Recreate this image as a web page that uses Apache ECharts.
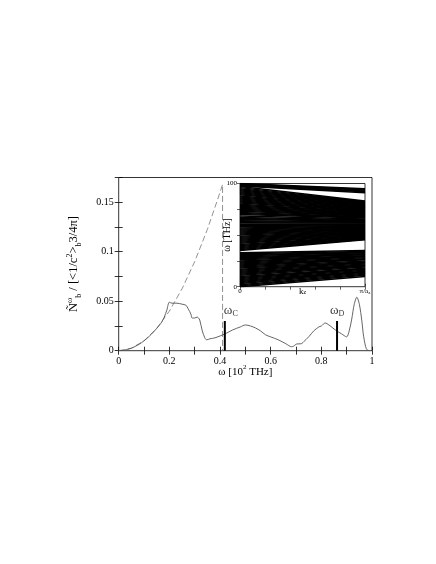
<!DOCTYPE html>
<html><head><meta charset="utf-8">
<script src="https://cdn.jsdelivr.net/npm/echarts@6/dist/echarts.min.js"></script>
<style>html,body{margin:0;padding:0;background:#fff}#c{width:436px;height:564px}</style>
</head><body><div id="c"></div>
<script>
// Main DOS curve (solid)
const dosOmega = [0,0.02,0.05,0.08,0.1,0.12,0.14,0.16,0.17,0.18,0.19,0.2,0.21,0.23,0.25,0.265,0.275,0.285,0.29,0.3,0.31,0.315,0.32,0.33,0.34,0.347,0.36,0.38,0.42,0.45,0.48,0.5,0.52,0.54,0.56,0.58,0.6,0.63,0.66,0.683,0.69,0.703,0.72,0.73,0.75,0.77,0.79,0.8,0.815,0.83,0.855,0.88,0.9,0.91,0.92,0.93,0.94,0.95,0.96,0.965,0.97,0.975,0.98,0.99];
const dosValue = [0,0.0004,0.0025,0.0064,0.01,0.0144,0.0196,0.0256,0.029,0.034,0.041,0.049,0.048,0.048,0.047,0.046,0.042,0.037,0.033,0.033,0.034,0.033,0.031,0.02,0.013,0.011,0.012,0.013,0.017,0.021,0.024,0.026,0.025,0.023,0.02,0.016,0.014,0.011,0.007,0.004,0.0045,0.0068,0.007,0.009,0.014,0.02,0.024,0.025,0.028,0.026,0.021,0.017,0.014,0.02,0.032,0.047,0.054,0.047,0.03,0.018,0.01,0.004,0.001,0];
// Dashed Debye-like curve
const debyeOmega = [0,0.05,0.1,0.15,0.2,0.25,0.3,0.35,0.4,0.41,0.41];
const debyeValue = [0,0.0025,0.01,0.0225,0.04,0.0625,0.09,0.1225,0.16,0.168,0];
// Marker bars
const markOmega = [0.419,0.862];
const markHeight = [0.03,0.03];
const markNames = ['C','D'];
// Tick labels
const xTicks = ['0','0.2','0.4','0.6','0.8','1'];
const yTicks = ['0','0.05','0.1','0.15'];
// Inset band structure: value at k=0 and at k=pi/a
const bandStart = [0,1,2,3,4,5,6,7,8,9,10,11,12,13,14,15,16,17,18,19,20,21,22,23,24,25,26,27,28,29,30,31,32,33,
  35,36,37,38,39,40,41,42,43,44,45,46,47,48,49,50,51,52,53,54,55,56,57,58,59,60,61,62,63,64,65,66,67,68.5,70,71,72,73,74,75,76,77,78,79,80,81,82,83,84,85,86,87,88,89,90,91,92,93,94,95,96,97,
  97.5,98,98.5,99,99.5,100];
const bandEnd = [10,11,12,13,14,14.5,15,16,17,17.5,18,19,20,20.5,21,22,23,23.5,24,25,26,26.5,27,28,29,29.5,30,31,31.5,32,33,33.5,34,35,
  45.5,46,46.6,47.2,47.8,48.4,49,49.6,50.2,50.9,51.5,52.1,52.7,53.3,53.9,54.5,55.1,55.7,56.3,56.9,57.5,58.1,58.7,59.4,60,60.6,61.2,61.8,62.4,63,63.6,64.2,64.8,65.7,66.6,67.2,67.9,68.5,69.1,69.7,70.3,70.9,71.5,72.1,72.7,73.3,73.9,74.5,75.1,75.7,76.4,77,77.6,78.2,78.8,79.4,80,80.6,81.2,81.8,82.4,83,
  91,92,92.8,93.6,94.3,95];

const serif = '"Liberation Serif","DejaVu Serif",serif';
const chart = echarts.init(document.getElementById('c'));

const bandLines = bandStart.map((s,i)=>({coords:[[0,s],[1,bandEnd[i]]]}));

const tickM = {show:true,inside:true,length:4,lineStyle:{color:'#000',width:0.8}};
const tickI = {show:true,inside:true,length:3,lineStyle:{color:'#000',width:0.6}};
const hid = {show:false};

const option = {
  animation:false,
  backgroundColor:'#fff',
  grid:[
    {left:118.7,right:64,top:177.5,bottom:213.3,show:true,borderColor:'#000',borderWidth:0.8,backgroundColor:'#fff'},
    {left:240,right:71,top:183.5,bottom:277.3,show:true,borderColor:'#000',borderWidth:0.8,backgroundColor:'#fff',z:5}
  ],
  xAxis:[
    {gridIndex:0,type:'value',min:0,max:1,interval:0.1,position:'bottom',
     axisLine:hid,axisTick:tickM,splitLine:hid,
     axisLabel:{color:'#000',fontFamily:serif,fontSize:10,margin:6,showMaxLabel:true,
       formatter:v=>{const i=Math.round(v/0.2);return Math.abs(v-i*0.2)<1e-9?xTicks[i]:'';}},
     name:'{a|ω [10}{s|2}{a| THz]}',nameLocation:'middle',nameGap:13,nameMoveOverlap:false,
     nameTextStyle:{rich:{a:{fontFamily:serif,fontSize:11,color:'#000',verticalAlign:'bottom',lineHeight:14},s:{fontFamily:serif,fontSize:7,color:'#000',verticalAlign:'top',lineHeight:14}}}},
    {gridIndex:0,type:'value',min:0,max:1,interval:0.1,position:'top',
     axisLine:hid,axisTick:tickM,splitLine:hid,axisLabel:hid},
    {gridIndex:1,type:'value',min:0,max:1,interval:0.2,position:'bottom',
     axisLine:hid,axisTick:tickI,splitLine:hid,
     axisLabel:{color:'#000',fontFamily:serif,fontSize:7,margin:1,showMaxLabel:true,
       formatter:v=>v===0?'0':(v===1?'{a|π/a}{s|z}':''),
       rich:{a:{fontFamily:serif,fontSize:7,color:'#000'},s:{fontFamily:serif,fontSize:5,color:'#000',verticalAlign:'bottom'}}},
     name:'{a|k}{s|z}',nameLocation:'middle',nameGap:0,nameMoveOverlap:false,
     nameTextStyle:{rich:{a:{fontFamily:serif,fontSize:9,color:'#000'},s:{fontFamily:serif,fontSize:6,color:'#000',verticalAlign:'bottom'}}}},
    {gridIndex:1,type:'value',min:0,max:1,interval:0.2,position:'top',
     axisLine:hid,axisTick:tickI,splitLine:hid,axisLabel:hid}
  ],
  yAxis:[
    {gridIndex:0,type:'value',min:0,max:0.175,interval:0.025,position:'left',
     axisLine:hid,axisTick:tickM,splitLine:hid,
     axisLabel:{color:'#000',fontFamily:serif,fontSize:10,margin:5,
       formatter:v=>{const i=Math.round(v/0.05);return Math.abs(v-i*0.05)<1e-9&&i<yTicks.length?yTicks[i]:'';}},
     name:'{a|Ñ}{p|ω}{b|b}{a| / [<1/c}{p|2}{a|>}{b|b}{a|3/4π]}',nameLocation:'middle',nameGap:36,nameRotate:90,nameMoveOverlap:false,
     nameTextStyle:{rich:{
       a:{fontFamily:serif,fontSize:12.5,color:'#000',lineHeight:17,verticalAlign:'middle'},
       p:{fontFamily:serif,fontSize:8,color:'#000',lineHeight:17,verticalAlign:'top'},
       b:{fontFamily:serif,fontSize:8,color:'#000',lineHeight:17,verticalAlign:'bottom'}}}},
    {gridIndex:0,type:'value',min:0,max:0.175,interval:0.025,position:'right',
     axisLine:hid,axisTick:tickM,splitLine:hid,axisLabel:hid},
    {gridIndex:1,type:'value',min:0,max:100,interval:25,position:'left',
     axisLine:hid,axisTick:tickI,splitLine:hid,
     axisLabel:{color:'#000',fontFamily:serif,fontSize:7,margin:3,showMaxLabel:true,formatter:v=>(v===0||v===100)?String(v):''},
     name:'ω [THz]',nameLocation:'middle',nameGap:8,nameRotate:90,nameMoveOverlap:false,
     nameTextStyle:{fontFamily:serif,fontSize:10,color:'#000'}},
    {gridIndex:1,type:'value',min:0,max:100,interval:25,position:'right',
     axisLine:hid,axisTick:tickI,splitLine:hid,axisLabel:hid}
  ],
  series:[
    {type:'line',xAxisIndex:0,yAxisIndex:0,data:debyeOmega.map((x,i)=>[x,debyeValue[i]]),
     showSymbol:false,smooth:false,lineStyle:{color:'#777',width:0.8,type:[6,3]},z:2},
    {type:'line',xAxisIndex:0,yAxisIndex:0,data:dosOmega.map((x,i)=>[x,dosValue[i]]),
     showSymbol:false,smooth:0.3,lineStyle:{color:'#555',width:0.9},z:3},
    ...markOmega.map((x,i)=>({type:'line',xAxisIndex:0,yAxisIndex:0,
      data:[[x,0],[x,markHeight[i]]],showSymbol:false,lineStyle:{color:'#000',width:2},z:4})),
    {type:'scatter',xAxisIndex:0,yAxisIndex:0,symbol:'circle',symbolSize:1,itemStyle:{color:'rgba(0,0,0,0)'},z:4,
     data:markOmega.map((x,i)=>({value:[x,markHeight[i]],name:markNames[i],
       label:{show:true,position:'top',align:'left',distance:3,offset:i===0?[-1,0]:[-7,0],
         formatter:'{a|ω}{s|'+markNames[i]+'}',
         rich:{a:{fontFamily:serif,fontSize:13,color:'#000',lineHeight:14,verticalAlign:'middle'},
               s:{fontFamily:serif,fontSize:8,color:'#000',lineHeight:14,verticalAlign:'bottom'}}}}))},
    {type:'lines',coordinateSystem:'cartesian2d',xAxisIndex:2,yAxisIndex:2,data:bandLines,
     lineStyle:{color:'#000',width:1.5,opacity:1},z:6,silent:true}
  ]
};
chart.setOption(option);
</script></body></html>
